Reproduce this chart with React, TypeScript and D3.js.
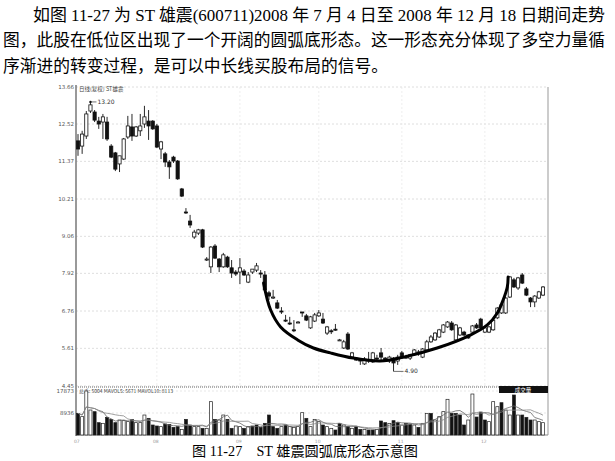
import * as d3 from 'd3'

// open, high, low, close
const candles: [number, number, number, number][] = [
  [12.0, 12.21, 11.54, 11.75], [11.84, 12.31, 11.6, 12.21], [12.15, 12.92, 12.06, 12.83], [12.92, 13.2, 12.86, 13.11],
  [12.89, 12.95, 12.58, 12.64], [12.61, 12.74, 12.37, 12.52], [12.58, 12.83, 12.06, 12.74], [12.58, 12.74, 12.0, 12.06],
  [11.84, 11.9, 11.47, 11.5], [11.63, 11.66, 11.07, 11.13], [11.29, 11.54, 11.04, 11.54], [11.44, 12.09, 11.41, 12.06],
  [12.12, 12.77, 12.06, 12.46], [12.43, 12.83, 12.0, 12.15], [12.15, 12.46, 12.12, 12.43], [12.31, 12.83, 12.15, 12.46],
  [12.52, 13.08, 12.4, 12.74], [12.61, 12.95, 12.03, 12.46], [12.61, 12.64, 12.34, 12.37], [12.46, 12.52, 11.78, 11.81],
  [11.75, 12.0, 11.44, 11.97], [11.6, 11.66, 11.2, 11.35], [11.35, 11.41, 10.83, 11.2], [11.5, 11.54, 11.32, 11.38],
  [11.38, 11.41, 10.8, 10.83], [10.52, 10.55, 10.27, 10.3], [9.81, 9.93, 9.75, 9.78], [9.53, 9.72, 9.32, 9.41],
  [9.04, 9.26, 8.98, 9.19], [9.16, 9.29, 9.1, 9.26], [9.26, 9.29, 8.7, 8.73], [8.36, 8.42, 8.3, 8.36],
  [8.12, 8.76, 7.93, 8.73], [8.76, 8.82, 8.36, 8.39], [8.36, 8.39, 7.96, 8.12], [8.12, 8.55, 8.09, 8.49],
  [8.42, 8.46, 8.09, 8.12], [8.09, 8.33, 7.78, 7.93], [7.96, 8.02, 7.84, 7.9], [7.96, 8.39, 7.59, 8.09],
  [7.99, 8.05, 7.84, 7.87], [7.65, 7.96, 7.62, 7.87], [7.96, 8.05, 7.9, 8.05], [8.02, 8.24, 7.96, 8.15],
  [7.93, 8.02, 7.78, 7.9], [7.87, 7.99, 7.38, 7.41], [7.32, 7.38, 7.1, 7.22], [7.16, 7.41, 7.13, 7.19],
  [7.01, 7.1, 6.82, 6.85], [6.76, 6.88, 6.67, 6.73], [6.48, 6.64, 6.42, 6.45], [6.39, 6.58, 6.33, 6.36],
  [6.18, 6.48, 6.11, 6.15], [6.42, 6.45, 6.39, 6.42], [6.73, 6.73, 6.58, 6.7], [6.61, 6.67, 6.45, 6.48],
  [6.24, 6.61, 6.21, 6.58], [6.45, 6.7, 6.42, 6.64], [6.61, 6.79, 6.58, 6.7], [6.51, 6.7, 6.36, 6.39],
  [6.08, 6.3, 6.02, 6.27], [6.15, 6.2, 6.05, 6.12], [6.2, 6.36, 6.15, 6.18], [5.87, 5.9, 5.85, 5.87],
  [5.62, 5.87, 5.59, 5.81], [6.05, 6.11, 5.56, 5.59], [5.34, 5.5, 5.31, 5.47], [5.31, 5.34, 5.22, 5.25],
  [5.25, 5.25, 5.1, 5.22], [5.13, 5.34, 5.1, 5.28], [5.22, 5.5, 5.16, 5.25], [5.19, 5.5, 5.16, 5.47],
  [5.31, 5.41, 5.22, 5.28], [5.47, 5.62, 5.25, 5.34], [5.31, 5.34, 5.19, 5.22], [5.22, 5.38, 5.16, 5.34],
  [5.31, 5.34, 4.9, 5.16], [5.22, 5.41, 5.1, 5.34], [5.47, 5.53, 5.28, 5.31], [5.34, 5.41, 5.28, 5.34],
  [5.31, 5.44, 5.25, 5.41], [5.41, 5.59, 5.38, 5.56], [5.44, 5.56, 5.38, 5.5], [5.34, 5.62, 5.31, 5.59],
  [5.56, 5.87, 5.53, 5.81], [5.81, 6.02, 5.78, 5.96], [5.87, 6.11, 5.84, 6.08], [5.96, 6.21, 5.93, 6.18],
  [6.11, 6.36, 6.08, 6.33], [6.27, 6.45, 6.24, 6.42], [6.39, 6.45, 6.15, 6.18], [5.87, 6.36, 5.84, 6.33],
  [6.02, 6.27, 5.99, 6.24], [6.11, 6.15, 5.99, 6.02], [6.02, 6.05, 5.9, 5.93], [6.11, 6.33, 6.08, 6.3],
  [6.33, 6.39, 6.21, 6.24], [6.51, 6.55, 6.21, 6.24], [6.11, 6.27, 6.08, 6.24], [6.11, 6.3, 6.08, 6.27],
  [6.18, 6.51, 6.15, 6.48], [6.55, 6.88, 6.51, 6.85], [6.7, 6.98, 6.67, 6.95], [6.7, 7.19, 6.67, 7.16],
  [7.19, 7.84, 7.16, 7.81], [7.72, 7.78, 7.47, 7.5], [7.47, 7.81, 7.41, 7.78], [7.87, 7.93, 7.59, 7.62],
  [7.44, 7.5, 7.22, 7.25], [7.16, 7.19, 6.88, 7.04], [7.04, 7.25, 6.88, 7.22], [7.16, 7.38, 7.13, 7.35],
  [7.25, 7.53, 7.22, 7.5],
]

const volumes = [
  8800, 7450, 17873, 10150, 9480, 5010, 4740, 7180, 6360, 5010,
  6090, 5820, 5420, 6360, 5010, 5010, 8120, 6770, 4060, 3660,
  3390, 4470, 4330, 3110, 3390, 2300, 6360, 4060, 3390, 3390,
  2710, 2710, 13540, 6360, 6090, 8120, 6360, 2710, 3660, 3390,
  2710, 3390, 3660, 4060, 3110, 4740, 8120, 3390, 2710, 3390,
  4060, 3390, 3110, 3390, 9070, 6770, 3390, 6360, 5420, 4060,
  3390, 2710, 2030, 4740, 4060, 3390, 2710, 3390, 2300, 2300,
  2030, 2030, 2300, 5690, 5010, 4740, 5820, 5010, 4060, 4740,
  4470, 4060, 3110, 4740, 8800, 8800, 6090, 7450, 9480, 14500,
  8800, 8800, 8120, 4060, 6090, 16650, 7300, 9300, 6090, 5420,
  13540, 11500, 13130, 10150, 8120, 16250, 8120, 8120, 7180, 6090,
  6090, 5420, 5004,
]

// 1 = filled (dark) volume bar
const volDark =
  '1000110111' + '0001000111' + '0111101100' + '1001001100' + '1011111110' +
  '1000010001' + '0011010110' + '1101101101' + '1010010000' + '1111001110' +
  '0010010111' + '000'

const priceTicks = [4.45, 5.61, 6.76, 7.92, 9.06, 10.21, 11.37, 12.52, 13.66]
const volTicks = [8936, 17873]
const monthTicks: [number, string][] = [[0, '07'], [19, '08'], [39, '09'], [58, '10'], [78, '11'], [98, '12']]

// hand-drawn arc annotation: [bar index, price]
const arcPoints: [number, number][] = [
  [44.7, 7.62], [46.4, 6.79], [48.8, 6.27], [52.9, 5.87], [56.7, 5.62], [60.8, 5.47],
  [66.3, 5.31], [72.8, 5.22], [78.4, 5.34], [86.5, 5.62], [94.5, 6.02], [98.6, 6.33],
  [101.0, 6.7], [102.4, 7.1], [103.4, 7.5], [103.6, 7.81],
]

const textLines = [
  { t: '如图 11-27 为 ST 雄震(600711)2008 年 7 月 4 日至 2008 年 12 月 18 日期间走势', x: 33, y: 21, w: 572 },
  { t: '图，此股在低位区出现了一个开阔的圆弧底形态。这一形态充分体现了多空力量循', x: 3, y: 46, w: 602 },
  { t: '序渐进的转变过程，是可以中长线买股布局的信号。', x: 3, y: 72, w: 385 },
]

const font = "'Liberation Serif', 'Noto Sans CJK SC', serif"
const small = "'DejaVu Sans', Arial, sans-serif"

export default function App() {
  const W = 615
  const H = 461
  const left = 76
  const right = 548
  const top = 87
  const priceBottom = 386
  const volTop = 391
  const volBottom = 435

  const n = candles.length
  const x = d3.scaleLinear().domain([0, n - 1]).range([78, 543])
  const y = d3.scaleLinear().domain([4.45, 13.66]).range([priceBottom, top])
  const vy = d3.scaleLinear().domain([0, 17873]).range([volBottom, volTop])

  const ma = (k: number) =>
    volumes.map((_, i) => d3.mean(volumes.slice(Math.max(0, i - k + 1), i + 1)) as number)
  const ma5 = ma(5)
  const ma10 = ma(10)
  const volLine = d3.line<number>().x((_, i) => x(i)).y(d => vy(d))

  const arc = d3.line<[number, number]>()
    .x(d => x(d[0]))
    .y(d => y(d[1]))
    .curve(d3.curveCatmullRom)

  const hiIdx = d3.maxIndex(candles, d => d[1])
  const loIdx = d3.minIndex(candles, d => d[2])
  const bw = 3.2

  return (
    <svg width={W} height={H} style={{ position: 'absolute', left: 0, top: 0, background: '#fff' }}>
      {textLines.map((l, i) => (
        <text key={i} x={l.x} y={l.y} fontFamily={font} fontSize={17} fill="#000"
          textLength={l.w} lengthAdjust="spacingAndGlyphs">{l.t}</text>
      ))}

      {/* grid */}
      {priceTicks.map(t => (
        <g key={t}>
          <line x1={left} x2={right} y1={y(t)} y2={y(t)} stroke="#d6d6d6" strokeWidth={0.8} strokeDasharray="2,2" />
          <text x={74} y={y(t) + 2} textAnchor="end" fontFamily={small} fontSize={5.5} fill="#555">{t.toFixed(2)}</text>
        </g>
      ))}
      {monthTicks.slice(1).map(([i]) => (
        <line key={i} x1={x(i)} x2={x(i)} y1={top} y2={priceBottom} stroke="#e6e6e6" strokeWidth={0.7} strokeDasharray="2,2" />
      ))}
      {volTicks.map(t => (
        <g key={t}>
          <line x1={left} x2={right} y1={vy(t)} y2={vy(t)} stroke="#dcdcdc" strokeWidth={0.7} strokeDasharray="2,2" />
          <text x={74} y={vy(t) + 2} textAnchor="end" fontFamily={small} fontSize={5.5} fill="#555">{t}</text>
        </g>
      ))}

      {/* frame */}
      <line x1={left} x2={left} y1={top - 2} y2={volBottom + 1} stroke="#777" strokeWidth={1.5} />
      <line x1={right} x2={right} y1={top} y2={volBottom} stroke="#999" strokeWidth={1} />
      <line x1={left} x2={right} y1={volBottom} y2={volBottom} stroke="#888" strokeWidth={1} />
      <line x1={left} x2={right} y1={priceBottom + 1} y2={priceBottom + 1} stroke="#999" strokeWidth={1.5} strokeDasharray="1,1" />
      <rect x={499} y={priceBottom} width={right - 499} height={7} fill="#111" />
      <text x={523} y={priceBottom + 5.5} textAnchor="middle" fontFamily="'Noto Sans CJK SC'" fontSize={5.5} fill="#fff">成交量</text>

      <text x={79} y={91} fontFamily="'Noto Sans CJK SC'" fontSize={5.5} fill="#444">日线(复权)  ST雄震</text>
      <text x={79} y={392.5} fontFamily="'Noto Sans CJK SC'" fontSize={5} fill="#444">总手: 5004  MAVOL5: 5671  MAVOL10: 8113</text>

      {monthTicks.map(([i, m]) => (
        <text key={m} x={x(i) - 4} y={443} fontFamily={small} fontSize={4.5} fill="#999">{m}</text>
      ))}

      {/* candles */}
      {candles.map(([o, h, l, c], i) => {
        const up = c >= o
        const yt = y(Math.max(o, c))
        const hb = Math.max(1, y(Math.min(o, c)) - yt)
        return (
          <g key={i}>
            <line x1={x(i)} x2={x(i)} y1={y(h)} y2={y(l)} stroke="#111" strokeWidth={0.9} />
            <rect x={x(i) - bw / 2} y={yt} width={bw} height={hb}
              fill={up ? '#fff' : '#111'} stroke="#111" strokeWidth={0.8} />
          </g>
        )
      })}

      {/* high / low markers */}
      <line x1={x(hiIdx)} x2={x(hiIdx) + 6} y1={y(candles[hiIdx][1])} y2={y(candles[hiIdx][1])} stroke="#333" strokeWidth={0.7} />
      <circle cx={x(hiIdx)} cy={y(candles[hiIdx][1])} r={1.2} fill="#111" />
      <text x={x(hiIdx) + 7} y={y(candles[hiIdx][1]) + 2} fontFamily={small} fontSize={6} fill="#333">{candles[hiIdx][1].toFixed(2)}</text>
      <line x1={x(loIdx)} x2={x(loIdx) + 10} y1={y(candles[loIdx][2])} y2={y(candles[loIdx][2])} stroke="#333" strokeWidth={0.7} />
      <text x={x(loIdx) + 11} y={y(candles[loIdx][2]) + 2} fontFamily={small} fontSize={6} fill="#333">{candles[loIdx][2].toFixed(2)}</text>

      {/* arc */}
      <path d={arc(arcPoints) ?? ''} fill="none" stroke="#000" strokeWidth={3} strokeLinecap="round" />

      {/* volume */}
      {volumes.map((v, i) => {
        const dark = volDark[i] === '1'
        return (
          <rect key={i} x={x(i) - 1.5} y={vy(v)} width={3} height={volBottom - vy(v)}
            fill={dark ? '#111' : '#fff'} stroke="#222" strokeWidth={0.7} />
        )
      })}
      <path d={volLine(ma5) ?? ''} fill="none" stroke="#666" strokeWidth={0.8} />
      <path d={volLine(ma10) ?? ''} fill="none" stroke="#888" strokeWidth={0.8} />

      <text x={192} y={456} fontFamily={font} fontSize={14} fill="#000" textLength={226}
        lengthAdjust="spacingAndGlyphs" style={{ whiteSpace: 'pre' }}>图 11-27    ST 雄震圆弧底形态示意图</text>
    </svg>
  )
}
